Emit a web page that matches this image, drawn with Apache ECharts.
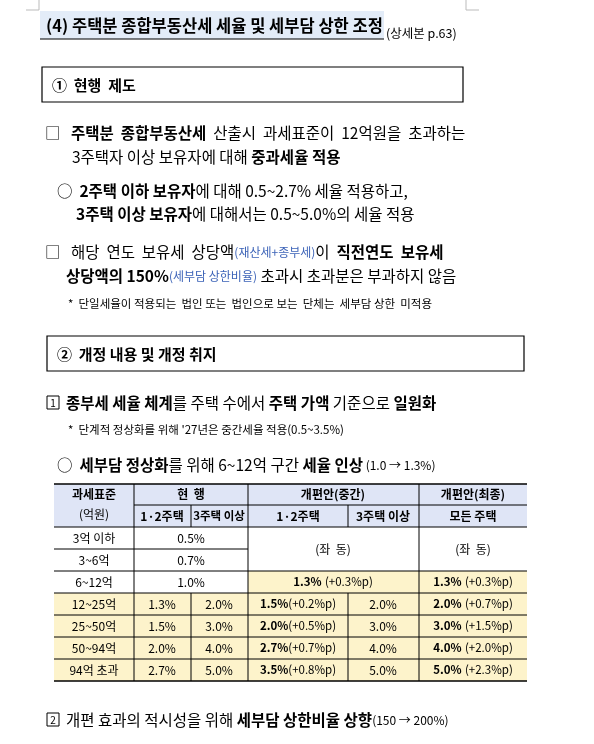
<!DOCTYPE html><html><head><meta charset="utf-8"><script src="https://cdn.jsdelivr.net/npm/echarts@6/dist/echarts.min.js"></script>
<style>html,body{margin:0;background:#fff}#c{width:594px;height:744px}</style></head><body><div id="c"></div><script>
const brackets=['3억 이하','3~6억','6~12억','12~25억','25~50억','50~94억','94억 초과'];
const cur12=['0.5%','0.7%','1.0%','1.3%','1.5%','2.0%','2.7%'];
const cur3=['','','','2.0%','3.0%','4.0%','5.0%'];
const mid12=['','','1.3%','1.5%','2.0%','2.7%','3.5%'];
const mid12d=['','','(+0.3%p)','(+0.2%p)','(+0.5%p)','(+0.7%p)','(+0.8%p)'];
const mid3=['','','','2.0%','3.0%','4.0%','5.0%'];
const fin=['','','1.3%','2.0%','3.0%','4.0%','5.0%'];
const finD=['','','(+0.3%p)','(+0.7%p)','(+1.5%p)','(+2.0%p)','(+2.3%p)'];

const F='"Noto Sans CJK KR",sans-serif';
const g=[];
function rect(x,y,w,h,fill,stroke,lw){g.push({type:'rect',shape:{x,y,width:w,height:h},style:{fill:fill||'none',stroke:stroke||null,lineWidth:lw||1}});}
function line(x1,y1,x2,y2,lw,c){g.push({type:'line',shape:{x1,y1,x2,y2},style:{stroke:c||'#000',lineWidth:lw||1}});}
function txt(x,y,t,o){o=o||{};g.push({type:'text',x,y,style:{text:t,font:(o.b?'bold ':'')+(o.s||14)+'px '+F,fill:o.c||'#000',align:o.a||'left',verticalAlign:'middle'}});}
const R=(s,b,c)=>({fontSize:s,fontWeight:b?'bold':'normal',fontFamily:F,fill:c||'#000'});
const rich={n:R(15.5),b:R(15.5,true),s:R(12,false,'#3d64b8'),t:R(12),tb:R(11.5,true),tt:R(11.5)};
function rt(x,y,t){g.push({type:'text',x,y,style:{text:t,rich,verticalAlign:'middle',font:'15px '+F}});}

line(39,0,39,10,1,'#bbb');line(466,0,466,10,1,'#bbb');line(26,10,39,10,1,'#bbb');line(466,10,479,10,1,'#bbb');
rect(40,11,344,28,'#e3ecf8');line(40,39,384,39,1.2);
txt(46,26,'(4) 주택분 종합부동산세 세율 및 세부담 상한 조정',{b:1,s:16.5});
txt(386,33,'(상세본 p.63)',{s:12.5});
rect(42,67,421,35,'#fff','#000',1.2);
txt(52,85,'①  현행  제도',{b:1,s:15});
rt(45,133,'{n|□   }{b|주택분  종합부동산세}{n|  산출시  과세표준이  12억원을  초과하는}');
rt(72,157,'{n|3주택자 이상 보유자에 대해 }{b|중과세율 적용}');
rt(57,191,'{n|○  }{b|2주택 이하 보유자}{n|에 대해 0.5~2.7% 세율 적용하고,}');
rt(76,214,'{b|3주택 이상 보유자}{n|에 대해서는 0.5~5.0%의 세율 적용}');
rt(45,252,'{n|□   해당  연도  보유세  상당액}{s|(재산세+종부세)}{n|이  }{b|직전연도  보유세}');
rt(66,276,'{b|상당액의 150%}{s|(세부담 상한비율)}{n| 초과시 초과분은 부과하지 않음}');
txt(68,304,'*  단일세율이 적용되는  법인 또는  법인으로 보는  단체는  세부담 상한  미적용',{s:11.5});
rect(47,336,477,35,'#fff','#000',1.2);
txt(57,354,'②  개정 내용 및 개정 취지',{b:1,s:15});
rect(47,396,12,13,'#fff','#000',1);txt(53,403,'1',{s:10,a:'center'});
rt(66,403,'{b|종부세 세율 체계}{n|를 주택 수에서 }{b|주택 가액}{n| 기준으로 }{b|일원화}');
txt(68,430,"*  단계적 정상화를 위해 '27년은 중간세율 적용(0.5~3.5%)",{s:11.5});
rt(57,465,'{n|○  }{b|세부담 정상화}{n|를 위해 6~12억 구간 }{b|세율 인상}{t| (1.0 → 1.3%)}');
rect(47,713,12,13,'#fff','#000',1);txt(53,720,'2',{s:10,a:'center'});
rt(66,720,'{n|개편 효과의 적시성을 위해 }{b|세부담 상한비율 상향}{t|(150 → 200%)}');

const Y=[484,505,527,549,571,593,615,637,659,681];
const HB='#dfe5f6',YL='#fdf3cb';
rect(54,484,473,43,HB);
rect(248,571,279,22,YL);
for(let r=3;r<7;r++)rect(54,Y[r+2],473,22,YL);
const ts=12;
txt(94,494,'과세표준',{s:ts,b:1,a:'center'});txt(94,514,'(억원)',{s:ts,a:'center'});
txt(191,494,'현  행',{s:ts,b:1,a:'center'});txt(333,494,'개편안(중간)',{s:ts,b:1,a:'center'});txt(473,494,'개편안(최종)',{s:ts,b:1,a:'center'});
txt(162,516,'1·2주택',{s:ts,b:1,a:'center'});txt(219,516,'3주택 이상',{s:11.5,b:1,a:'center'});
txt(298,516,'1·2주택',{s:ts,b:1,a:'center'});txt(383,516,'3주택 이상',{s:ts,b:1,a:'center'});txt(473,516,'모든 주택',{s:ts,b:1,a:'center'});
for(let r=0;r<7;r++){
  const cy=(Y[r+2]+Y[r+3])/2;
  txt(94,cy,brackets[r],{s:ts,a:'center'});
  if(r<3) txt(191,cy,cur12[r],{s:ts,a:'center'});
  else {txt(162,cy,cur12[r],{s:ts,a:'center'});txt(219,cy,cur3[r],{s:ts,a:'center'});}
  if(r==2){g.push({type:'text',x:333,y:cy,style:{text:'{tb|'+mid12[r]+'} {tt|'+mid12d[r]+'}',rich,align:'center',verticalAlign:'middle'}});}
  if(r>2){g.push({type:'text',x:298,y:cy,style:{text:'{tb|'+mid12[r]+'}{tt|'+mid12d[r]+'}',rich,align:'center',verticalAlign:'middle'}});txt(383,cy,mid3[r],{s:ts,a:'center'});}
  if(r>=2)g.push({type:'text',x:473,y:cy,style:{text:'{tb|'+fin[r]+'} {tt|'+finD[r]+'}',rich,align:'center',verticalAlign:'middle'}});
}
txt(333,549,'(좌  동)',{s:ts,a:'center'});txt(473,549,'(좌  동)',{s:ts,a:'center'});
line(54,484,527,484,1.5);line(54,681,527,681,1.5);
line(54,527,527,527);line(134,505,527,505);
line(54,549,248,549);
for(let i=4;i<9;i++)line(54,Y[i],527,Y[i]);
line(134,484,134,681);line(248,484,248,681);line(419,484,419,681);
line(191,505,191,527);line(191,593,191,681);
line(348,505,348,527);line(348,593,348,681);
echarts.init(document.getElementById('c')).setOption({animation:false,graphic:g});
</script></body></html>
